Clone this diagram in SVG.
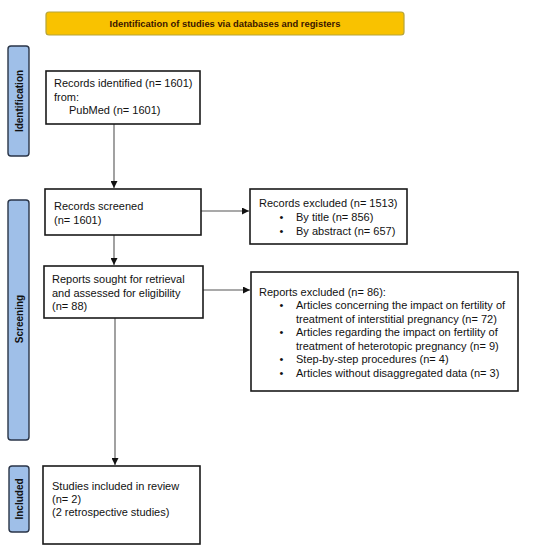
<svg xmlns="http://www.w3.org/2000/svg" width="550" height="552" viewBox="0 0 550 552">
<style>
text{font-family:"Liberation Sans",Arial,sans-serif;font-size:11px;fill:#111}
.box{fill:#fff;stroke:#1a1a1a;stroke-width:1.6}
.side{fill:#9fbfe8;stroke:#2a3548;stroke-width:1.4}
.sl{font-size:10px;font-weight:bold;fill:#111}
.conn{stroke:#555;stroke-width:1.1;fill:none}
</style>
<defs>
<marker id="ah" viewBox="0 0 10 10" refX="10" refY="5" markerWidth="7" markerHeight="7" markerUnits="userSpaceOnUse" orient="auto">
<path d="M0,0 L10,5 L0,10 z" fill="#111"/>
</marker>
</defs>
<rect width="550" height="552" fill="#fff"/>
<g id="header">
<rect x="46" y="12" width="358" height="23" rx="3" fill="#f9c200" stroke="#b5a43a" stroke-width="1.2"/>
<text x="225" y="26.8" text-anchor="middle" style="font-size:9.4px;font-weight:bold;fill:#3a1600">Identification of studies via databases and registers</text>
</g>
<g id="side-identification">
<rect class="side" x="8" y="46" width="21" height="110" rx="3"/>
<text class="sl" transform="translate(22.6,101) rotate(-90)" text-anchor="middle">Identification</text>
</g>
<g id="side-screening">
<rect class="side" x="8" y="200" width="21" height="240" rx="3"/>
<text class="sl" transform="translate(22.6,319) rotate(-90)" text-anchor="middle">Screening</text>
</g>
<g id="side-included">
<rect class="side" x="9" y="466" width="20" height="66" rx="3"/>
<text class="sl" transform="translate(22.6,499) rotate(-90)" text-anchor="middle">Included</text>
</g>
<g id="connectors">
<line class="conn" x1="114" y1="124" x2="114" y2="188" marker-end="url(#ah)"/>
<line class="conn" x1="201" y1="211" x2="249" y2="211" marker-end="url(#ah)"/>
<line class="conn" x1="114" y1="235" x2="114" y2="265" marker-end="url(#ah)"/>
<line class="conn" x1="203" y1="290" x2="250" y2="290" marker-end="url(#ah)"/>
<line class="conn" x1="115" y1="318" x2="115" y2="465" marker-end="url(#ah)"/>
</g>
<g id="records-identified">
<rect class="box" x="46" y="71" width="154" height="53"/>
<text x="54" y="86.5">Records identified (n= 1601)</text>
<text x="54" y="100.5">from:</text>
<text x="69" y="113.5">PubMed (n= 1601)</text>
</g>
<g id="records-screened">
<rect class="box" x="45" y="189" width="156" height="46"/>
<text x="54" y="209.5">Records screened</text>
<text x="54" y="224">(n= 1601)</text>
</g>
<g id="records-excluded">
<rect class="box" x="250" y="189" width="157" height="55"/>
<text x="259" y="206.5">Records excluded (n= 1513)</text>
<text x="279.5" y="221">•</text><text x="296" y="221">By title (n= 856)</text>
<text x="279.5" y="235">•</text><text x="296" y="235">By abstract (n= 657)</text>
</g>
<g id="reports-sought">
<rect class="box" x="44" y="266" width="159" height="52"/>
<text x="52" y="283">Reports sought for retrieval</text>
<text x="52" y="297">and assessed for eligibility</text>
<text x="52" y="309.5">(n= 88)</text>
</g>
<g id="reports-excluded">
<rect class="box" x="251" y="272" width="267" height="119"/>
<text x="259" y="295.5">Reports excluded (n= 86):</text>
<text x="279.5" y="308.5">•</text><text x="296" y="308.5">Articles concerning the impact on fertility of</text>
<text x="296" y="322.5">treatment of interstitial pregnancy (n= 72)</text>
<text x="279.5" y="336">•</text><text x="296" y="336">Articles regarding the impact on fertility of</text>
<text x="296" y="349.5">treatment of heterotopic pregnancy (n= 9)</text>
<text x="279.5" y="363">•</text><text x="296" y="363">Step-by-step procedures (n= 4)</text>
<text x="279.5" y="376.5">•</text><text x="296" y="376.5">Articles without disaggregated data (n= 3)</text>
</g>
<g id="studies-included">
<rect class="box" x="43" y="466" width="157" height="78"/>
<text x="52" y="489.5">Studies included in review</text>
<text x="52" y="503">(n= 2)</text>
<text x="52" y="516">(2 retrospective studies)</text>
</g>
</svg>
